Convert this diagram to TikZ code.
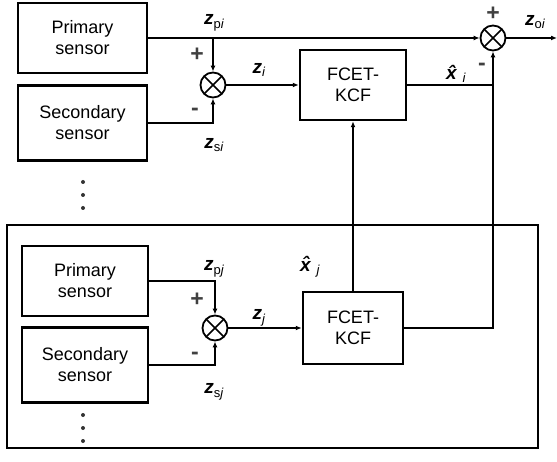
\documentclass[tikz,border=0pt]{standalone}
\usepackage{fontspec}
\setmainfont{Liberation Sans}
\usetikzlibrary{arrows.meta,calc}
\newcommand\mysub[1]{\raisebox{-0.35ex}{\fontsize{13}{13}\selectfont #1}}
\newcommand\myz[2]{\textbf{\textit{z}}\mysub{#1\textit{#2}}}
\newcommand\myx[1]{\textbf{\textit{\^x}}\mysub{\,\textit{#1}}}
\begin{document}
\begin{tikzpicture}[x=1pt,y=-1pt,
  box/.style={draw,line width=2.5pt,align=center,font=\fontsize{18}{21}\selectfont,inner sep=0pt},
  sumnode/.style={draw,circle,line width=1.8pt,minimum size=25pt,inner sep=0pt,
    path picture={\draw[line width=1.6pt] (path picture bounding box.north west) -- (path picture bounding box.south east)
      (path picture bounding box.north east) -- (path picture bounding box.south west);}},
  wire/.style={line width=1.7pt},
  arr/.style={line width=1.7pt,-{Latex[length=6pt,width=5pt]}},
  lab/.style={font=\fontsize{19}{21}\selectfont,inner sep=0pt},
  sgn/.style={font=\fontsize{23}{24}\selectfont\bfseries,text=black!75,inner sep=0pt},
  dotn/.style={circle,fill=black!80,minimum size=4pt,inner sep=0pt}
]
\useasboundingbox (0,0) rectangle (557,462);

% frame of the j-th subsystem
\node[draw,line width=1.9pt,minimum width=531pt,minimum height=223pt,inner sep=0pt] (frame) at (272.5,336.5) {};

% top subsystem
\node[box,minimum width=129pt,minimum height=70pt] (ps1) at (82.5,38) {Primary\\sensor};
\node[box,minimum width=129pt,minimum height=75pt] (ss1) at (82.5,123) {Secondary\\sensor};
\node[sumnode] (sum1) at (213,85) {};
\node[box,minimum width=106pt,minimum height=70pt] (kcf1) at (353,85) {FCET-\\KCF};
\node[sumnode] (sum2) at (493,38) {};
\coordinate (j1) at (213,38);
\coordinate (out) at (557,38);

% bottom subsystem
\node[box,minimum width=126pt,minimum height=70pt] (ps2) at (85,281) {Primary\\sensor};
\node[box,minimum width=126pt,minimum height=75pt] (ss2) at (85,365) {Secondary\\sensor};
\node[sumnode] (sum3) at (215,328) {};
\node[box,minimum width=100pt,minimum height=72pt] (kcf2) at (353,328) {FCET-\\KCF};

% dots
\node[dotn] (d1) at (83,182) {};
\node[dotn] (d2) at (83,195) {};
\node[dotn] (d3) at (83,208) {};
\node[dotn] (d4) at (83,415) {};
\node[dotn] (d5) at (83,428) {};
\node[dotn] (d6) at (83,441) {};

% connectors top
\draw[arr] (ps1.east) -- (sum2.west);
\draw[arr] (j1) -- (sum1.north);
\draw[arr] (ss1.east) -| (sum1.south);
\draw[arr] (sum1.east) -- (kcf1.west);
\draw[wire] (kcf1.east) -- (kcf1.east -| sum2);
\draw[arr] (sum2.east) -- (out);
% connectors bottom
\draw[arr] (ps2.east) -| (sum3.north);
\draw[arr] (ss2.east) -| (sum3.south);
\draw[arr] (sum3.east) -- (kcf2.west);
\draw[arr] (kcf2.north) -- (kcf1.south);
\draw[arr] (kcf2.east) -| (sum2.south);

% labels
\node[lab] (lzpi) at (214,23) {\myz{p}{i}};
\node[sgn] (p1) at (197,55) {+};
\node[sgn] (m1) at (195,112) {-};
\node[lab] (lzi) at (259,70) {\myz{}{i}};
\node[lab] (lzsi) at (214,145) {\myz{s}{i}};
\node[lab] (lzoi) at (535,22) {\myz{o}{i}};
\node[sgn] (p2) at (493,14) {+};
\node[sgn] (m2) at (482,67) {-};
\node[lab] (lxi) at (456,74) {\myx{i}};

\node[lab] (lzpj) at (214,269) {\myz{p}{j}};
\node[sgn] (p3) at (197,300) {+};
\node[sgn] (m3) at (195,356) {-};
\node[lab] (lzj) at (259,318) {\myz{}{j}};
\node[lab] (lzsj) at (214,392) {\myz{s}{j}};
\node[lab] (lxj) at (310,267) {\myx{j}};
\end{tikzpicture}
\end{document}
